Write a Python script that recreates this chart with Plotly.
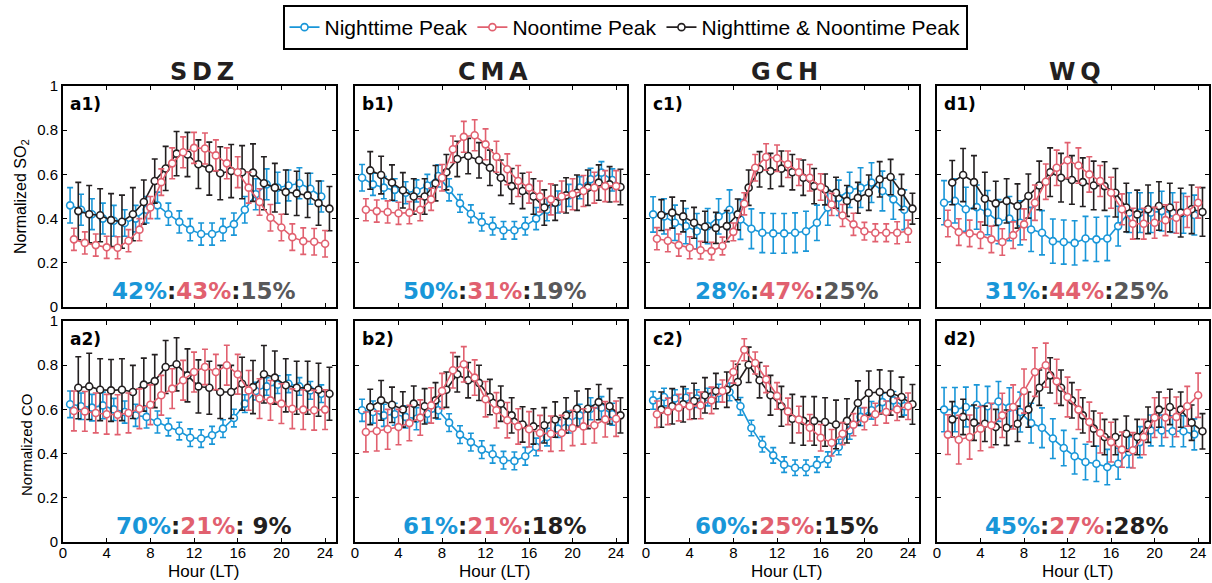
import plotly.graph_objects as go

# ---------------- data ----------------
hours = list(range(1, 25))
stations = ["SDZ", "CMA", "GCH", "WQ"]
panel_labels_so2 = ["a1)", "b1)", "c1)", "d1)"]
panel_labels_co = ["a2)", "b2)", "c2)", "d2)"]
series_names = ["Nighttime Peak", "Noontime Peak", "Nighttime & Noontime Peak"]
x_ticks = [0, 4, 8, 12, 16, 20, 24]
y_ticks = [0, 0.2, 0.4, 0.6, 0.8, 1]

pct_so2 = [("42%", "43%", "15%"), ("50%", "31%", "19%"), ("28%", "47%", "25%"), ("31%", "44%", "25%")]
pct_co = [("70%", "21%", " 9%"), ("61%", "21%", "18%"), ("60%", "25%", "15%"), ("45%", "27%", "28%")]

# SDZ SO2
sdz_so2_night = [0.46, 0.44, 0.42, 0.40, 0.39, 0.38, 0.40, 0.44, 0.46, 0.42, 0.385, 0.35, 0.33, 0.33, 0.35, 0.375, 0.44, 0.51, 0.555, 0.54, 0.55, 0.56, 0.535, 0.50]
sdz_so2_night_err = [0.08, 0.07, 0.07, 0.07, 0.07, 0.06, 0.06, 0.06, 0.06, 0.05, 0.05, 0.05, 0.05, 0.05, 0.05, 0.05, 0.06, 0.07, 0.07, 0.07, 0.07, 0.07, 0.07, 0.07]
sdz_so2_noon = [0.306, 0.29, 0.28, 0.27, 0.268, 0.30, 0.35, 0.45, 0.565, 0.65, 0.70, 0.72, 0.717, 0.686, 0.65, 0.61, 0.54, 0.475, 0.404, 0.36, 0.316, 0.298, 0.295, 0.286]
sdz_so2_noon_err = [0.05, 0.05, 0.05, 0.05, 0.05, 0.05, 0.05, 0.05, 0.06, 0.07, 0.07, 0.07, 0.07, 0.07, 0.07, 0.07, 0.07, 0.06, 0.06, 0.06, 0.06, 0.06, 0.06, 0.06]
sdz_so2_both = [0.434, 0.42, 0.415, 0.393, 0.386, 0.42, 0.475, 0.57, 0.627, 0.694, 0.69, 0.646, 0.626, 0.605, 0.615, 0.61, 0.608, 0.56, 0.54, 0.52, 0.514, 0.505, 0.47, 0.445]
sdz_so2_both_err = [0.13, 0.13, 0.12, 0.12, 0.12, 0.12, 0.10, 0.10, 0.10, 0.10, 0.10, 0.11, 0.12, 0.12, 0.12, 0.12, 0.13, 0.12, 0.11, 0.10, 0.10, 0.10, 0.10, 0.10]

# CMA SO2
cma_so2_night = [0.585, 0.555, 0.54, 0.53, 0.517, 0.525, 0.55, 0.593, 0.53, 0.469, 0.422, 0.384, 0.366, 0.347, 0.347, 0.366, 0.40, 0.44, 0.475, 0.505, 0.54, 0.578, 0.608, 0.575]
cma_so2_night_err = [0.06, 0.05, 0.05, 0.05, 0.05, 0.05, 0.05, 0.05, 0.05, 0.04, 0.04, 0.04, 0.04, 0.04, 0.04, 0.04, 0.05, 0.05, 0.05, 0.05, 0.05, 0.05, 0.05, 0.05]
cma_so2_noon = [0.44, 0.434, 0.43, 0.424, 0.427, 0.44, 0.487, 0.585, 0.714, 0.77, 0.777, 0.736, 0.68, 0.623, 0.57, 0.54, 0.50, 0.487, 0.50, 0.51, 0.525, 0.54, 0.547, 0.547]
cma_so2_noon_err = [0.05, 0.05, 0.05, 0.05, 0.05, 0.05, 0.05, 0.06, 0.06, 0.07, 0.07, 0.07, 0.07, 0.07, 0.07, 0.07, 0.07, 0.07, 0.07, 0.07, 0.07, 0.07, 0.07, 0.07]
cma_so2_both = [0.618, 0.597, 0.563, 0.528, 0.50, 0.50, 0.56, 0.61, 0.67, 0.683, 0.664, 0.63, 0.585, 0.547, 0.525, 0.50, 0.45, 0.472, 0.505, 0.517, 0.54, 0.563, 0.555, 0.543]
cma_so2_both_err = [0.085, 0.085, 0.08, 0.08, 0.08, 0.08, 0.08, 0.08, 0.08, 0.08, 0.08, 0.08, 0.08, 0.08, 0.08, 0.08, 0.08, 0.08, 0.08, 0.08, 0.08, 0.08, 0.08, 0.08]

# GCH SO2
gch_so2_night = [0.419, 0.41, 0.381, 0.366, 0.343, 0.366, 0.41, 0.44, 0.396, 0.354, 0.336, 0.333, 0.333, 0.336, 0.343, 0.381, 0.45, 0.494, 0.53, 0.54, 0.563, 0.525, 0.487, 0.44]
gch_so2_night_err = [0.08, 0.08, 0.08, 0.08, 0.08, 0.08, 0.08, 0.09, 0.09, 0.09, 0.09, 0.09, 0.09, 0.09, 0.09, 0.08, 0.08, 0.08, 0.08, 0.09, 0.09, 0.09, 0.09, 0.09]
gch_so2_noon = [0.309, 0.30, 0.28, 0.268, 0.257, 0.253, 0.276, 0.34, 0.467, 0.63, 0.679, 0.673, 0.646, 0.61, 0.585, 0.543, 0.464, 0.414, 0.374, 0.343, 0.336, 0.336, 0.336, 0.343]
gch_so2_noon_err = [0.05, 0.05, 0.05, 0.05, 0.04, 0.04, 0.04, 0.04, 0.05, 0.06, 0.06, 0.06, 0.06, 0.06, 0.06, 0.06, 0.05, 0.05, 0.05, 0.04, 0.04, 0.04, 0.05, 0.05]
gch_so2_both = [0.416, 0.427, 0.41, 0.381, 0.363, 0.358, 0.366, 0.419, 0.54, 0.623, 0.615, 0.626, 0.61, 0.585, 0.547, 0.532, 0.517, 0.48, 0.494, 0.517, 0.578, 0.588, 0.52, 0.445]
gch_so2_both_err = [0.07, 0.07, 0.07, 0.07, 0.07, 0.07, 0.07, 0.07, 0.08, 0.08, 0.08, 0.08, 0.08, 0.08, 0.08, 0.07, 0.07, 0.07, 0.07, 0.08, 0.08, 0.08, 0.08, 0.07]

# WQ SO2
wq_so2_night = [0.472, 0.48, 0.442, 0.452, 0.427, 0.386, 0.40, 0.381, 0.351, 0.336, 0.298, 0.294, 0.29, 0.31, 0.306, 0.31, 0.366, 0.427, 0.427, 0.427, 0.434, 0.427, 0.424, 0.416]
wq_so2_night_err = [0.10, 0.10, 0.10, 0.10, 0.10, 0.10, 0.10, 0.10, 0.10, 0.10, 0.10, 0.10, 0.10, 0.10, 0.10, 0.10, 0.09, 0.09, 0.09, 0.09, 0.09, 0.09, 0.09, 0.09]
wq_so2_noon = [0.378, 0.339, 0.333, 0.325, 0.306, 0.294, 0.325, 0.374, 0.472, 0.567, 0.63, 0.664, 0.64, 0.60, 0.57, 0.517, 0.442, 0.377, 0.377, 0.381, 0.393, 0.404, 0.43, 0.472]
wq_so2_noon_err = [0.06, 0.06, 0.06, 0.06, 0.06, 0.06, 0.06, 0.07, 0.08, 0.08, 0.08, 0.08, 0.08, 0.08, 0.07, 0.07, 0.07, 0.07, 0.07, 0.07, 0.07, 0.07, 0.07, 0.07]
wq_so2_both = [0.563, 0.597, 0.565, 0.49, 0.469, 0.48, 0.457, 0.502, 0.55, 0.61, 0.585, 0.575, 0.565, 0.55, 0.547, 0.517, 0.45, 0.419, 0.442, 0.457, 0.45, 0.427, 0.442, 0.43]
wq_so2_both_err = [0.10, 0.12, 0.12, 0.12, 0.10, 0.10, 0.10, 0.10, 0.11, 0.11, 0.11, 0.11, 0.11, 0.11, 0.11, 0.11, 0.11, 0.11, 0.11, 0.11, 0.11, 0.11, 0.11, 0.11]

# SDZ CO
sdz_co_night = [0.623, 0.614, 0.608, 0.618, 0.60, 0.588, 0.573, 0.566, 0.543, 0.52, 0.502, 0.472, 0.468, 0.483, 0.513, 0.561, 0.626, 0.683, 0.704, 0.712, 0.716, 0.704, 0.686, 0.671]
sdz_co_night_err = [0.06, 0.06, 0.06, 0.06, 0.05, 0.05, 0.05, 0.05, 0.05, 0.04, 0.04, 0.04, 0.04, 0.04, 0.04, 0.04, 0.04, 0.04, 0.04, 0.04, 0.04, 0.04, 0.04, 0.04]
sdz_co_noon = [0.593, 0.591, 0.584, 0.578, 0.576, 0.584, 0.603, 0.621, 0.664, 0.694, 0.732, 0.769, 0.792, 0.769, 0.80, 0.759, 0.686, 0.649, 0.641, 0.626, 0.603, 0.599, 0.596, 0.599]
sdz_co_noon_err = [0.09, 0.09, 0.09, 0.09, 0.09, 0.09, 0.09, 0.09, 0.09, 0.09, 0.09, 0.09, 0.08, 0.08, 0.09, 0.09, 0.09, 0.09, 0.09, 0.09, 0.09, 0.09, 0.09, 0.09]
sdz_co_both = [0.698, 0.704, 0.689, 0.686, 0.689, 0.679, 0.712, 0.728, 0.792, 0.804, 0.754, 0.704, 0.698, 0.679, 0.679, 0.716, 0.701, 0.759, 0.744, 0.709, 0.698, 0.698, 0.689, 0.671]
sdz_co_both_err = [0.14, 0.15, 0.14, 0.14, 0.14, 0.12, 0.12, 0.12, 0.12, 0.12, 0.12, 0.12, 0.12, 0.12, 0.12, 0.12, 0.12, 0.13, 0.12, 0.12, 0.12, 0.12, 0.12, 0.12]

# CMA CO
cma_co_night = [0.596, 0.588, 0.573, 0.578, 0.566, 0.558, 0.58, 0.596, 0.54, 0.486, 0.452, 0.418, 0.397, 0.37, 0.367, 0.388, 0.43, 0.475, 0.513, 0.543, 0.573, 0.603, 0.608, 0.578]
cma_co_night_err = [0.05, 0.05, 0.05, 0.05, 0.05, 0.05, 0.04, 0.04, 0.04, 0.04, 0.04, 0.04, 0.04, 0.04, 0.04, 0.04, 0.04, 0.04, 0.04, 0.05, 0.05, 0.05, 0.05, 0.05]
cma_co_noon = [0.498, 0.502, 0.51, 0.52, 0.538, 0.563, 0.618, 0.683, 0.777, 0.804, 0.744, 0.646, 0.596, 0.551, 0.523, 0.51, 0.493, 0.49, 0.493, 0.516, 0.523, 0.528, 0.555, 0.558]
cma_co_noon_err = [0.09, 0.09, 0.09, 0.08, 0.08, 0.08, 0.08, 0.08, 0.08, 0.08, 0.08, 0.08, 0.08, 0.08, 0.08, 0.08, 0.08, 0.08, 0.08, 0.08, 0.08, 0.08, 0.08, 0.08]
cma_co_both = [0.611, 0.641, 0.621, 0.60, 0.626, 0.614, 0.641, 0.689, 0.759, 0.732, 0.72, 0.656, 0.626, 0.573, 0.532, 0.523, 0.528, 0.554, 0.573, 0.603, 0.603, 0.633, 0.614, 0.573]
cma_co_both_err = [0.08, 0.09, 0.08, 0.08, 0.08, 0.08, 0.08, 0.08, 0.08, 0.08, 0.08, 0.08, 0.08, 0.08, 0.08, 0.08, 0.08, 0.08, 0.08, 0.08, 0.09, 0.08, 0.08, 0.08]

# GCH CO
gch_co_night = [0.641, 0.656, 0.649, 0.653, 0.649, 0.656, 0.674, 0.679, 0.614, 0.516, 0.442, 0.392, 0.35, 0.336, 0.336, 0.35, 0.373, 0.43, 0.505, 0.566, 0.596, 0.633, 0.641, 0.614]
gch_co_night_err = [0.04, 0.04, 0.04, 0.04, 0.04, 0.04, 0.04, 0.04, 0.04, 0.035, 0.035, 0.035, 0.035, 0.035, 0.035, 0.035, 0.035, 0.035, 0.04, 0.04, 0.04, 0.04, 0.04, 0.04]
gch_co_noon = [0.578, 0.591, 0.608, 0.614, 0.618, 0.641, 0.683, 0.769, 0.87, 0.81, 0.736, 0.661, 0.591, 0.554, 0.517, 0.472, 0.449, 0.49, 0.531, 0.558, 0.578, 0.588, 0.60, 0.614]
gch_co_noon_err = [0.06, 0.06, 0.06, 0.06, 0.06, 0.06, 0.05, 0.05, 0.05, 0.05, 0.06, 0.06, 0.06, 0.06, 0.06, 0.06, 0.06, 0.05, 0.05, 0.05, 0.05, 0.05, 0.05, 0.06]
gch_co_both = [0.599, 0.614, 0.623, 0.638, 0.664, 0.683, 0.689, 0.724, 0.802, 0.732, 0.664, 0.614, 0.558, 0.548, 0.548, 0.543, 0.532, 0.548, 0.629, 0.674, 0.679, 0.674, 0.656, 0.623]
gch_co_both_err = [0.08, 0.08, 0.08, 0.08, 0.08, 0.08, 0.08, 0.08, 0.08, 0.08, 0.09, 0.09, 0.11, 0.11, 0.11, 0.11, 0.11, 0.10, 0.10, 0.10, 0.10, 0.10, 0.09, 0.09]

# WQ CO
wq_co_night = [0.599, 0.599, 0.611, 0.621, 0.614, 0.636, 0.608, 0.588, 0.538, 0.517, 0.468, 0.425, 0.388, 0.362, 0.354, 0.339, 0.354, 0.407, 0.452, 0.505, 0.505, 0.501, 0.501, 0.487]
wq_co_night_err = [0.10, 0.10, 0.09, 0.09, 0.09, 0.09, 0.09, 0.09, 0.09, 0.09, 0.09, 0.08, 0.08, 0.08, 0.08, 0.08, 0.07, 0.07, 0.07, 0.07, 0.07, 0.07, 0.07, 0.07]
wq_co_noon = [0.486, 0.463, 0.475, 0.513, 0.528, 0.573, 0.611, 0.683, 0.769, 0.80, 0.727, 0.656, 0.599, 0.543, 0.493, 0.452, 0.418, 0.415, 0.475, 0.563, 0.563, 0.566, 0.614, 0.664]
wq_co_noon_err = [0.09, 0.11, 0.10, 0.10, 0.10, 0.10, 0.10, 0.10, 0.11, 0.10, 0.10, 0.09, 0.09, 0.09, 0.09, 0.09, 0.08, 0.08, 0.08, 0.09, 0.09, 0.09, 0.09, 0.10]
wq_co_both = [0.555, 0.566, 0.54, 0.535, 0.52, 0.517, 0.535, 0.599, 0.698, 0.754, 0.698, 0.641, 0.573, 0.513, 0.475, 0.475, 0.49, 0.475, 0.531, 0.599, 0.611, 0.599, 0.54, 0.501]
wq_co_both_err = [0.08, 0.08, 0.08, 0.08, 0.08, 0.08, 0.08, 0.08, 0.08, 0.08, 0.08, 0.08, 0.08, 0.08, 0.08, 0.08, 0.08, 0.08, 0.08, 0.08, 0.08, 0.08, 0.08, 0.08]

so2_data = [
    [(sdz_so2_night, sdz_so2_night_err), (sdz_so2_noon, sdz_so2_noon_err), (sdz_so2_both, sdz_so2_both_err)],
    [(cma_so2_night, cma_so2_night_err), (cma_so2_noon, cma_so2_noon_err), (cma_so2_both, cma_so2_both_err)],
    [(gch_so2_night, gch_so2_night_err), (gch_so2_noon, gch_so2_noon_err), (gch_so2_both, gch_so2_both_err)],
    [(wq_so2_night, wq_so2_night_err), (wq_so2_noon, wq_so2_noon_err), (wq_so2_both, wq_so2_both_err)],
]
co_data = [
    [(sdz_co_night, sdz_co_night_err), (sdz_co_noon, sdz_co_noon_err), (sdz_co_both, sdz_co_both_err)],
    [(cma_co_night, cma_co_night_err), (cma_co_noon, cma_co_noon_err), (cma_co_both, cma_co_both_err)],
    [(gch_co_night, gch_co_night_err), (gch_co_noon, gch_co_noon_err), (gch_co_both, gch_co_both_err)],
    [(wq_co_night, wq_co_night_err), (wq_co_noon, wq_co_noon_err), (wq_co_both, wq_co_both_err)],
]

# ---------------- style ----------------
W, H = 1212, 583
BLUE = "#1996d8"
RED = "#e1606f"
BLACK = "#231f20"
GRAY = "#58585a"
colors = [BLUE, RED, BLACK]
x_offsets = [-0.35, 0.0, 0.4]
draw_order = [0, 2, 1]

FONT = "Arial, Liberation Sans, sans-serif"
BOLD = "DejaVu Sans, Arial Black, sans-serif"

col_px = [(63, 336), (355, 627), (646, 919), (937, 1209)]
row_px = [(86, 307), (321, 542)]

fig = go.Figure()
layout = dict(
    width=W, height=H, margin=dict(l=0, r=0, t=0, b=0, pad=0, autoexpand=False),
    paper_bgcolor="white", plot_bgcolor="white",
    showlegend=True,
    legend=dict(
        orientation="h", x=625 / W, xanchor="center", y=1 - 5 / H, yanchor="top",
        bordercolor="black", borderwidth=2, bgcolor="white",
        font=dict(family=FONT, size=21, color="black"),
        itemwidth=30, tracegroupgap=0,
    ),
)
annotations = []

for r, (data, labels, pcts) in enumerate([(so2_data, panel_labels_so2, pct_so2), (co_data, panel_labels_co, pct_co)]):
    for c in range(4):
        idx = r * 4 + c + 1
        sfx = "" if idx == 1 else str(idx)
        x0, x1 = col_px[c]
        y0, y1 = row_px[r]
        layout["xaxis" + sfx] = dict(
            domain=[x0 / W, x1 / W], range=[0, 25], anchor="y" + sfx,
            tickvals=x_ticks, showticklabels=(r == 1), ticks="inside", ticklen=4,
            tickwidth=1, tickcolor="black", showline=True, linewidth=2, linecolor="black",
            mirror="ticks", showgrid=False, zeroline=False, automargin=False,
            ticklabelstandoff=-4,
            tickfont=dict(family=FONT, size=15, color="black"),
        )
        layout["yaxis" + sfx] = dict(
            domain=[1 - y1 / H, 1 - y0 / H], range=[0, 1], anchor="x" + sfx,
            tickvals=y_ticks, showticklabels=(c == 0), ticks="inside", ticklen=4,
            tickwidth=1, tickcolor="black", showline=True, linewidth=2, linecolor="black",
            mirror="ticks", showgrid=False, zeroline=False, automargin=False,
            tickfont=dict(family=FONT, size=15, color="black"),
        )
        for k in draw_order:
            vals, errs = data[c][k]
            fig.add_trace(go.Scatter(
                x=[h + x_offsets[k] for h in hours], y=vals,
                mode="lines+markers", name=series_names[k],
                legendrank=k + 1,
                showlegend=(idx == 1),
                line=dict(color=colors[k], width=1.6),
                marker=dict(symbol="circle", size=7, color="white",
                            line=dict(color=colors[k], width=1.6)),
                error_y=dict(type="data", array=errs, visible=True,
                             color=colors[k], thickness=1.6, width=3),
                xaxis="x" + sfx, yaxis="y" + sfx,
            ))
        xc = (x0 + x1) / 2
        # panel label
        annotations.append(dict(
            text=labels[c], x=(x0 + 5) / W, y=1 - (y0 + 18) / H, xref="paper", yref="paper",
            xanchor="left", yanchor="middle", showarrow=False,
            font=dict(family=BOLD, size=17, color="black", weight="bold"),
        ))
        # percentages
        third_color = GRAY if r == 0 else BLACK
        p = pcts[c]
        txt = (f"<span style='color:{BLUE}'>{p[0]}</span>"
               f"<span style='color:{BLACK}'>:</span>"
               f"<span style='color:{RED}'>{p[1]}</span>"
               f"<span style='color:{BLACK}'>:</span>"
               f"<span style='color:{third_color}'>{p[2]}</span>")
        annotations.append(dict(
            text=txt, x=(xc + 4) / W, y=1 - (y1 - 16) / H, xref="paper", yref="paper",
            xanchor="center", yanchor="middle", showarrow=False,
            font=dict(family=BOLD, size=23, color="black", weight="bold"),
        ))
        if r == 0:
            annotations.append(dict(
                text="\u2009".join(stations[c]),
                x=(xc + 2) / W, y=1 - 72 / H, xref="paper", yref="paper",
                xanchor="center", yanchor="middle", showarrow=False,
                font=dict(family=BOLD, size=24, color=BLACK, weight="bold"),
            ))
        else:
            annotations.append(dict(
                text="Hour (LT)", x=(xc + 4) / W, y=1 - 571 / H, xref="paper", yref="paper",
                xanchor="center", yanchor="middle", showarrow=False,
                font=dict(family=FONT, size=17, color="black"),
            ))

annotations.append(dict(
    text="Normalized SO<sub>2</sub>", x=21 / W, y=1 - 197 / H, xref="paper", yref="paper",
    xanchor="center", yanchor="middle", showarrow=False, textangle=-90,
    font=dict(family=FONT, size=16, color="black"),
))
annotations.append(dict(
    text="Normalized CO", x=26 / W, y=1 - 445 / H, xref="paper", yref="paper",
    xanchor="center", yanchor="middle", showarrow=False, textangle=-90,
    font=dict(family=FONT, size=15, color="black"),
))

layout["annotations"] = annotations
fig.update_layout(**layout)
fig.write_html("out.html", config={"displayModeBar": False},
               post_script="document.body.style.margin='0px';")
